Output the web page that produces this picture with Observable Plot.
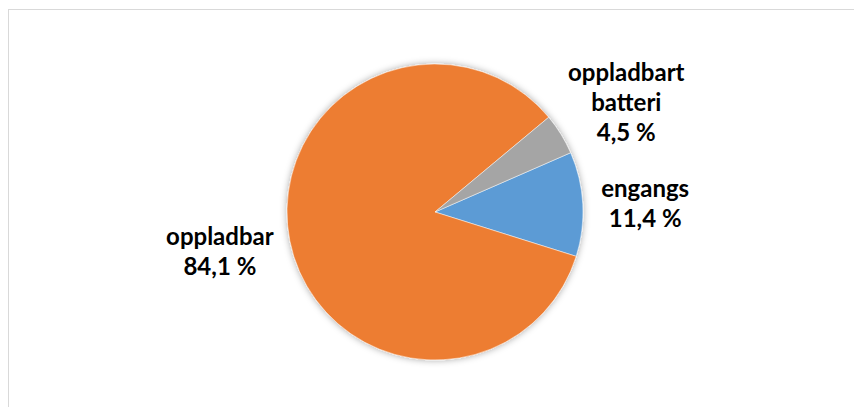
<!DOCTYPE html>
<html>
<head>
<meta charset="utf-8">
<script src="https://cdn.jsdelivr.net/npm/d3@7"></script>
<script src="https://cdn.jsdelivr.net/npm/@observablehq/plot@0.6"></script>
<style>
  html, body { margin: 0; padding: 0; background: #fff; overflow: hidden; }
  #frame { position: absolute; left: 8px; top: 9px; width: 900px; height: 450px;
           border-top: 1.5px solid #d9d9d9; border-left: 1.5px solid #d9d9d9; }
  #chart { position: absolute; left: 0; top: 0; }
</style>
</head>
<body>
<div id="frame"></div>
<div id="chart"></div>
<script>
// ---- data ----
const categories = ["engangs", "oppladbar", "oppladbart batteri"];
const labelNames = ["engangs", "oppladbar", "oppladbart\nbatteri"];
const values = [11.4, 84.1, 4.5];
const valueLabels = ["11,4 %", "84,1 %", "4,5 %"];
const colors = ["#5B9BD5", "#ED7D31", "#A5A5A5"];
const firstSliceAngle = 66.4; // degrees, clockwise from 12 o'clock

// ---- layout ----
const W = 854, H = 407;
const margin = {left: 287, right: 271, top: 64, bottom: 47};
const R = (W - margin.left - margin.right) / 2; // pie radius in px
const fontSize = 24, fontFamily = "Lato, 'Open Sans', sans-serif", lineHeight = 1.25;
const gap = 18;

const color = d3.scaleOrdinal(categories, colors);
const a0 = firstSliceAngle * Math.PI / 180;
const arcs = d3.pie().sort(null).value(d => d).startAngle(a0).endAngle(a0 + 2 * Math.PI)(values);

// text measurement for label placement (outside end)
const ctx = document.createElement("canvas").getContext("2d");
ctx.font = `bold ${fontSize}px ${fontFamily}`;

const labels = arcs.map((a, i) => {
  const text = labelNames[i] + "\n" + valueLabels[i];
  const lines = text.split("\n");
  const w = d3.max(lines, l => ctx.measureText(l).width);
  const h = lines.length * fontSize * lineHeight;
  const mid = (a.startAngle + a.endAngle) / 2;
  const dx = Math.sin(mid), dy = Math.cos(mid);
  const px = dx * (R + gap) + dx * w / 2;
  const py = dy * (R + gap) + dy * h / 2;
  return {category: categories[i], text, x: px / R, y: py / R};
});

function pieMark(index, scales) {
  const cx = scales.x(0), cy = scales.y(0), r = Math.abs(scales.x(1) - scales.x(0));
  const g = d3.create("svg:g").attr("transform", `translate(${cx},${cy})`);
  const f = g.append("defs").append("filter").attr("id", "pieShadow")
    .attr("x", "-20%").attr("y", "-20%").attr("width", "140%").attr("height", "140%");
  f.append("feDropShadow").attr("dx", 0).attr("dy", 0).attr("stdDeviation", 3.5)
    .attr("flood-color", "#000").attr("flood-opacity", 0.35);
  const arc = d3.arc().innerRadius(0).outerRadius(r);
  g.append("g").attr("filter", "url(#pieShadow)")
    .selectAll("path").data(arcs).join("path")
    .attr("d", arc)
    .attr("fill", d => color(categories[d.index]))
    .attr("stroke", "#fff").attr("stroke-width", 0.5);
  return g.node();
}

const chart = Plot.plot({
  width: W,
  height: H,
  marginLeft: margin.left,
  marginRight: margin.right,
  marginTop: margin.top,
  marginBottom: margin.bottom,
  x: {domain: [-1, 1], axis: null},
  y: {domain: [-1, 1], axis: null},
  style: {background: "transparent", overflow: "visible"},
  marks: [
    pieMark,
    Plot.text(labels, {
      x: "x", y: "y", text: "text",
      textAnchor: "middle", lineAnchor: "middle", lineHeight,
      fontSize, fontFamily, fontWeight: "bold", fill: "#000"
    })
  ]
});
document.getElementById("chart").append(chart);
</script>
</body>
</html>
